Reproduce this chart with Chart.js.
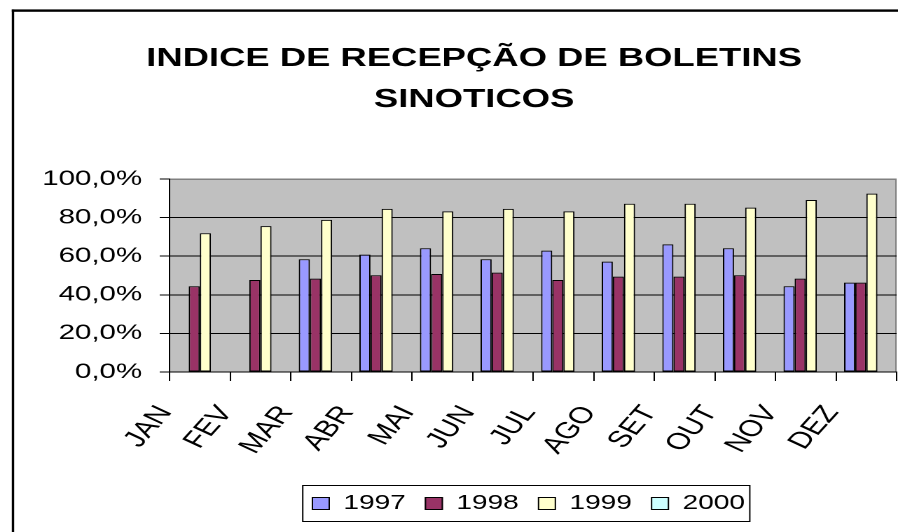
<!DOCTYPE html>
<html>
<head>
<meta charset="utf-8">
<script src="https://cdn.jsdelivr.net/npm/chart.js@4/dist/chart.umd.min.js"></script>
<style>
  html, body { margin: 0; padding: 0; background: #fff; overflow: hidden; }
  #wrap { position: absolute; left: 0; top: 0; width: 641px; height: 532px; transform: scaleX(1.40094); transform-origin: 0 0; }
</style>
</head>
<body>
<div id="wrap"><canvas id="c"></canvas></div>
<script>
// ---- data ----
const months = ['JAN','FEV','MAR','ABR','MAI','JUN','JUL','AGO','SET','OUT','NOV','DEZ'];
const seriesNames = ['1997','1998','1999','2000'];
const values1997 = [null, null, 58.4, 60.8, 64.1, 58.4, 62.9, 57.2, 66.1, 64.1, 44.4, 46.3];
const values1998 = [44.4, 47.7, 48.4, 50.1, 50.8, 51.5, 47.7, 49.4, 49.4, 50.1, 48.4, 46.3];
const values1999 = [71.9, 75.6, 78.8, 84.5, 83.2, 84.5, 83.2, 87.2, 87.2, 85.2, 89.1, 92.4];
const values2000 = [null, null, null, null, null, null, null, null, null, null, null, null];
const yTickValues = [0, 20, 40, 60, 80, 100];
const yTickLabels = ['0,0%', '20,0%', '40,0%', '60,0%', '80,0%', '100,0%'];
const titleLines = ['INDICE DE RECEPÇÃO DE BOLETINS', 'SINOTICOS'];

// ---- styles ----
const FONT = "'Liberation Sans', Arial, sans-serif";
const colors = ['#9999FF', '#993366', '#FFFFCC', '#CCFFFF'];
const allValues = [values1997, values1998, values1999, values2000];

const datasets = seriesNames.map((name, i) => ({
  label: name,
  data: allValues[i],
  backgroundColor: colors[i],
  borderColor: '#000000',
  borderWidth: 1,
  borderSkipped: false,
  categoryPercentage: 0.734,
  barPercentage: 1.0
}));

const decorPlugin = {
  id: 'decor',
  beforeDraw(chart) {
    const ctx = chart.ctx;
    const a = chart.chartArea;
    ctx.save();
    ctx.fillStyle = '#ffffff';
    ctx.fillRect(0, 0, chart.width, chart.height);
    // outer chart border (cropped on right/bottom)
    ctx.fillStyle = '#000000';
    ctx.fillRect(8.4, 9.4, 1.7, chart.height);
    ctx.fillRect(8.4, 9.4, chart.width, 2.4);
    // plot area
    ctx.fillStyle = '#C0C0C0';
    ctx.fillRect(a.left, a.top, a.right - a.left, a.bottom - a.top);
    ctx.strokeStyle = '#808080';
    ctx.lineWidth = 1;
    ctx.beginPath();
    ctx.moveTo(a.left, a.top + 0.5);
    ctx.lineTo(a.right - 0.5, a.top + 0.5);
    ctx.lineTo(a.right - 0.5, a.bottom);
    ctx.stroke();
    ctx.restore();
  },
  afterDraw(chart) {
    const ctx = chart.ctx;
    ctx.save();
    // title
    ctx.fillStyle = '#000000';
    ctx.font = 'bold 26px ' + FONT;
    ctx.textAlign = 'center';
    ctx.textBaseline = 'middle';
    const tx = 338.4;
    ctx.fillText(titleLines[0], tx, 59);
    ctx.fillText(titleLines[1], tx, 100);
    // legend
    const bx0 = 215.6, bx1 = 534.7, by0 = 485, by1 = 521;
    ctx.fillStyle = '#ffffff';
    ctx.fillRect(bx0, by0, bx1 - bx0, by1 - by0);
    ctx.strokeStyle = '#000000';
    ctx.lineWidth = 1;
    ctx.strokeRect(bx0 + 0.5, by0 + 0.5, bx1 - bx0, by1 - by0);
    ctx.font = '20px ' + FONT;
    ctx.textAlign = 'left';
    ctx.textBaseline = 'middle';
    const cy = (by0 + by1) / 2 + 0.5;
    chart.data.datasets.forEach((ds, i) => {
      const mx = 222.5 + i * 80.7;
      ctx.fillStyle = ds.backgroundColor;
      ctx.fillRect(mx, cy - 6.5, 13, 13);
      ctx.strokeStyle = '#000000';
      ctx.strokeRect(mx + 0.5, cy - 6.5 + 0.5, 12, 12);
      ctx.fillStyle = '#000000';
      ctx.fillText(ds.label, mx + 22.6, cy);
    });
    ctx.restore();
  }
};

new Chart(document.getElementById('c'), {
  type: 'bar',
  data: { labels: months, datasets: datasets },
  options: {
    responsive: true,
    maintainAspectRatio: false,
    devicePixelRatio: 2,
    animation: false,
    layout: { padding: { top: 179, left: 0, right: 1, bottom: 0 } },
    plugins: {
      legend: { display: false },
      title: { display: false },
      tooltip: { enabled: false }
    },
    scales: {
      x: {
        offset: true,
        grid: { display: true, drawOnChartArea: false, drawTicks: true, tickLength: 9, tickColor: '#000000', offset: true },
        border: { display: true, color: '#000000', width: 1 },
        ticks: {
          autoSkip: false, minRotation: 57, maxRotation: 57,
          labelOffset: -24.6, padding: 20,
          color: '#000000', font: { family: FONT, size: 23 }
        },
        afterFit(scale) { scale.height = 160; scale.paddingLeft = 0; scale.paddingRight = 0; }
      },
      y: {
        min: 0, max: 100,
        afterBuildTicks(scale) { scale.ticks = yTickValues.map(v => ({ value: v })); },
        ticks: {
          padding: 12.6, color: '#000000', font: { family: FONT, size: 21 },
          callback(value) { const k = yTickValues.indexOf(value); return k >= 0 ? yTickLabels[k] : ''; }
        },
        grid: {
          color: c => (c.tick && c.tick.value === 100) ? '#808080' : '#000000',
          tickColor: '#000000', tickLength: 7, drawTicks: true, lineWidth: 1
        },
        border: { display: true, color: '#000000', width: 1 },
        afterFit(scale) { scale.width = 121; }
      }
    }
  },
  plugins: [decorPlugin]
});
</script>
</body>
</html>
